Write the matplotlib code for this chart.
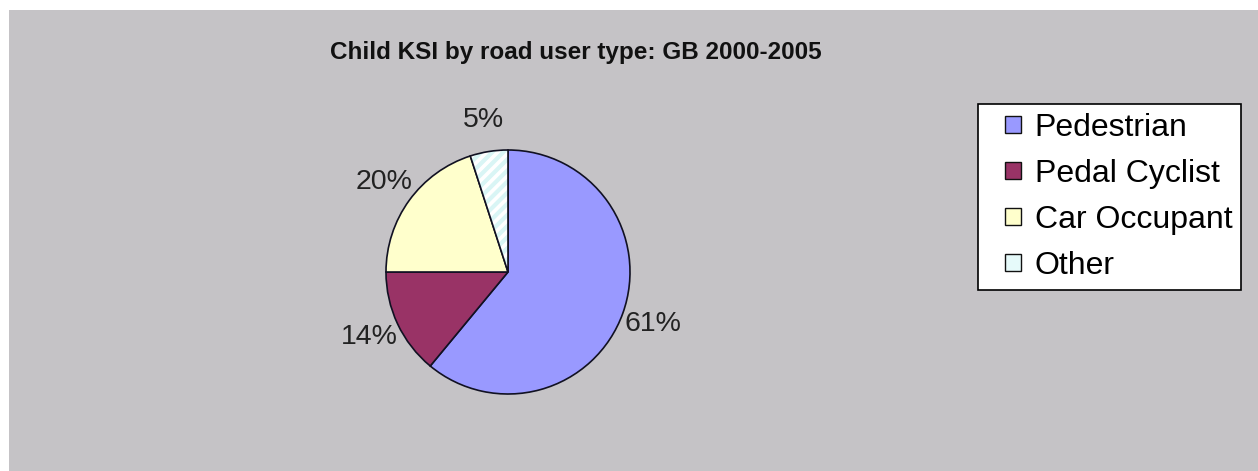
import matplotlib.pyplot as plt
from matplotlib.patches import Rectangle
from matplotlib.legend_handler import HandlerPatch

plt.rcParams['font.family'] = ['Liberation Sans', 'DejaVu Sans']
plt.rcParams['hatch.linewidth'] = 3

categories = ['Pedestrian', 'Pedal Cyclist', 'Car Occupant', 'Other']
shares = [61, 14, 20, 5]
colors = ['#9999FF', '#993366', '#FFFFCC', '#FFFFFF']
legend_colors = ['#9999FF', '#993366', '#FFFFCC', '#E6FAFA']

W, H = 1258, 471
fig = plt.figure(figsize=(W / 100, H / 100), dpi=100, facecolor='white')

# grey chart area
fig.patches.append(Rectangle((9 / W, 0), 1 - 9 / W, 1 - 10 / H,
                             transform=fig.transFigure, facecolor='#C5C3C6',
                             edgecolor='none', zorder=-5))

fig.text(576 / W, 1 - 52 / H, 'Child KSI by road user type: GB 2000-2005',
         ha='center', va='center', fontsize=17.5, fontweight='bold', color='#111111')

# pie centre (508, 272), radius 122 px
cx, cy, r = 508, 272, 122
ax = fig.add_axes([(cx - r) / W, (H - cy - r) / H, 2 * r / W, 2 * r / H])
ax.set_facecolor('none')
wedges, texts, autotexts = ax.pie(shares, colors=colors, startangle=90,
                                  counterclock=False, autopct=lambda p: f'{p:.0f}%',
                                  pctdistance=1.26,
                                  wedgeprops=dict(edgecolor='#111122', linewidth=1.2),
                                  textprops=dict(fontsize=20.5, color='#222222'))
wedges[3].set_hatch('///')
wedges[3]._hatch_color = (0.85, 0.96, 0.96, 1.0)
ax.set_xlim(-1, 1)
ax.set_ylim(-1, 1)
ax.set_aspect('equal')
ax.axis('off')


def small_square(legend, orig_handle, xdescent, ydescent, width, height, fontsize):
    s = 0.53 * fontsize
    return Rectangle((width - s - 0.12 * fontsize - xdescent, (height - s) / 2 - ydescent), s, s)


handles = [Rectangle((0, 0), 1, 1, facecolor=c, edgecolor='#111111', linewidth=1)
           for c in legend_colors]
leg = fig.legend(handles, categories, loc='upper left',
                 bbox_to_anchor=(978 / W, 1 - 104 / H), borderaxespad=0,
                 fontsize=23, frameon=True, fancybox=False, framealpha=1,
                 edgecolor='black', handlelength=1.2, handleheight=0.55,
                 handletextpad=0.3, labelspacing=0.5, borderpad=0.28,
                 handler_map={Rectangle: HandlerPatch(patch_func=small_square)})
leg.get_frame().set_linewidth(1.2)

fig.savefig('out.png', dpi=100, facecolor='white')
